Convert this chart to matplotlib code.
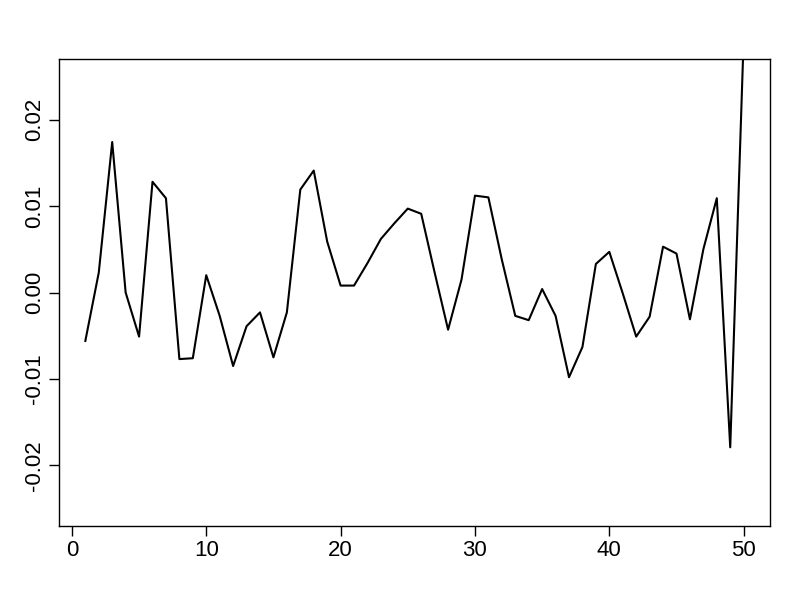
import numpy as np
import matplotlib
matplotlib.use('Agg')
import matplotlib.pyplot as plt

plt.rcParams['font.family'] = ['Liberation Sans', 'DejaVu Sans']

# series
t = np.arange(1, 51)
vals = [-0.0056, 0.0023, 0.0174, 0.0000, -0.0051, 0.0128, 0.0109, -0.0077, -0.0076, 0.0020,
        -0.0027, -0.0085, -0.0039, -0.0023, -0.0075, -0.0023, 0.0119, 0.0141, 0.0059, 0.0008,
        0.0008, 0.0034, 0.0062, 0.0080, 0.0097, 0.0091, 0.0023, -0.0043, 0.0015, 0.0112,
        0.0110, 0.0038, -0.0027, -0.0032, 0.0004, -0.0027, -0.0098, -0.0063, 0.0033, 0.0047,
        -0.0001, -0.0051, -0.0028, 0.0053, 0.0045, -0.0031, 0.0050, 0.0109, -0.0179, 0.0294]
xticks = [0, 10, 20, 30, 40, 50]
yticks = [-0.02, -0.01, 0.00, 0.01, 0.02]
ytick_labels = ['-0.02', '-0.01', '0.00', '0.01', '0.02']

fig = plt.figure(figsize=(8, 6), dpi=100)
ax = fig.add_axes([59 / 800, 1 - 526 / 600, (770 - 59) / 800, (526 - 59) / 600])
ax.plot(t, vals, color='black', lw=1.5)

ax.set_xlim(1 - 0.04 * 49, 50 + 0.04 * 49)
ax.set_ylim(-0.027, 0.027)
ax.set_xticks(xticks)
ax.set_xticklabels([str(x) for x in xticks])
ax.set_yticks(yticks)
ax.set_yticklabels(ytick_labels, rotation=90, va='center')
ax.tick_params(direction='out', length=7, width=1, labelsize=16, pad=3)
for s in ax.spines.values():
    s.set_linewidth(1)

fig.savefig('out.png', dpi=100)
